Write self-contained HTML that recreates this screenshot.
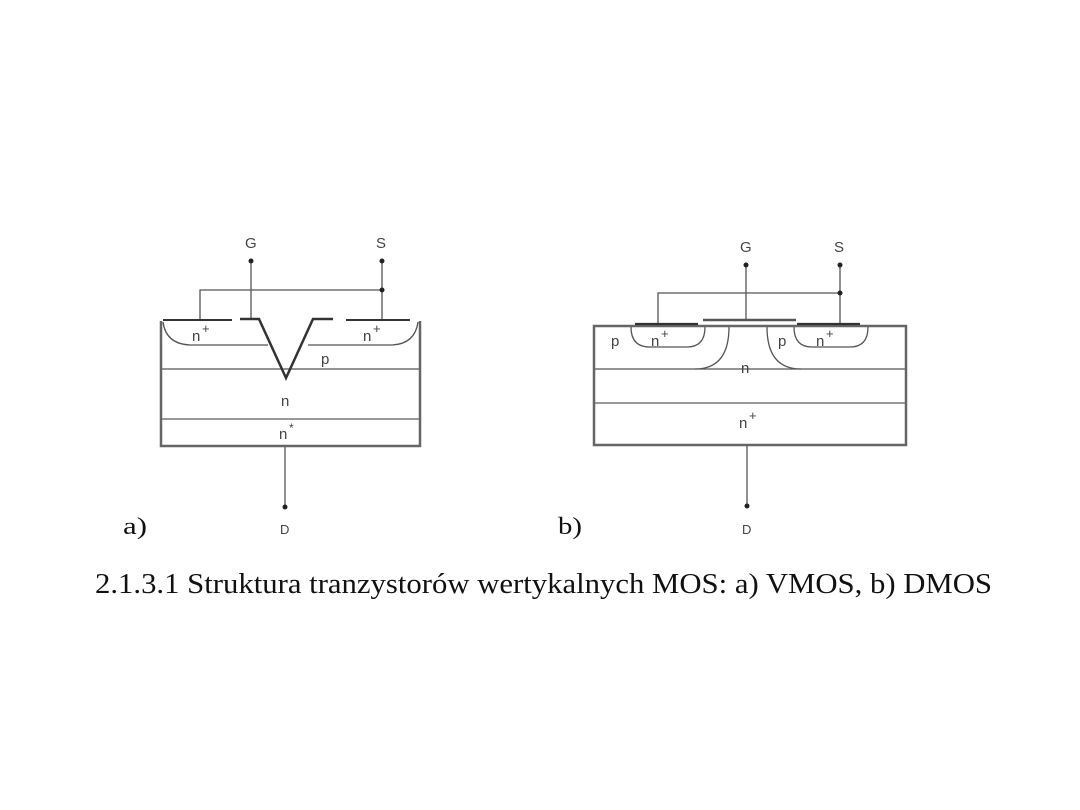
<!DOCTYPE html>
<html><head><meta charset="utf-8"><style>
html,body{margin:0;padding:0;background:#fff;}
svg{display:block;}
</style></head><body>
<svg width="1080" height="810" viewBox="0 0 1080 810" xmlns="http://www.w3.org/2000/svg">
<rect width="1080" height="810" fill="#fff"/>
<g font-family="Liberation Sans, sans-serif" font-size="15" fill="#444">
<!-- a) VMOS -->
<g fill="none" stroke="#555" stroke-width="1.3">
  <line x1="161" y1="369" x2="420" y2="369"/>
  <line x1="161" y1="419" x2="420" y2="419" stroke="#999" stroke-width="2"/>
  <path d="M163 322 Q166 344 190 345 L268 345"/>
  <path d="M418 322 Q415 344 392 345 L308 345"/>
  <line x1="251" y1="261" x2="251" y2="318"/>
  <line x1="382" y1="261" x2="382" y2="320"/>
  <polyline points="200,320 200,290 382,290"/>
  <line x1="285" y1="446" x2="285" y2="507"/>
</g>
<path d="M161 321 L161 446 L420 446 L420 321" fill="none" stroke="#666" stroke-width="2.5"/>
<line x1="163" y1="320" x2="232" y2="320" stroke="#333" stroke-width="2"/>
<line x1="346" y1="320" x2="410" y2="320" stroke="#333" stroke-width="2"/>
<polyline points="240,319 259,319 286,378 313,319 333,319" fill="none" stroke="#333" stroke-width="2.5"/>
<circle cx="251" cy="261" r="2.5" fill="#222"/>
<circle cx="382" cy="261" r="2.5" fill="#222"/>
<circle cx="382" cy="290" r="2.5" fill="#222"/>
<circle cx="285" cy="507" r="2.5" fill="#222"/>
<text x="245" y="248">G</text>
<text x="376" y="248">S</text>
<text x="192" y="341">n</text><text x="202" y="333" font-size="13">+</text>
<text x="363" y="341">n</text><text x="373" y="333" font-size="13">+</text>
<text x="321" y="364">p</text>
<text x="281" y="406">n</text>
<text x="279" y="439">n</text><text x="289" y="432" font-size="12">*</text>
<text x="280" y="534" font-size="13">D</text>

<!-- b) DMOS -->
<g fill="none" stroke="#555" stroke-width="1.3">
  <line x1="594" y1="369" x2="906" y2="369"/>
  <line x1="594" y1="403" x2="906" y2="403" stroke="#999" stroke-width="2"/>
  <path d="M631 327 Q631 347 650 347 L687 347 Q705 347 705 327"/>
  <path d="M729 327 Q729 369 695 369"/>
  <path d="M767 327 Q767 369 801 369"/>
  <path d="M794 327 Q794 347 812 347 L850 347 Q868 347 868 327"/>
  <line x1="746" y1="265" x2="746" y2="320"/>
  <line x1="840" y1="265" x2="840" y2="323"/>
  <polyline points="658,323 658,293 840,293"/>
  <line x1="747" y1="445" x2="747" y2="506"/>
</g>
<path d="M594 326 L594 445 L906 445 L906 326 Z" fill="none" stroke="#666" stroke-width="2.5"/>
<line x1="635" y1="324" x2="698" y2="324" stroke="#333" stroke-width="2.2"/>
<line x1="703" y1="320" x2="796" y2="320" stroke="#555" stroke-width="2.5"/>
<line x1="797" y1="324" x2="860" y2="324" stroke="#333" stroke-width="2.2"/>
<circle cx="746" cy="265" r="2.5" fill="#222"/>
<circle cx="840" cy="265" r="2.5" fill="#222"/>
<circle cx="840" cy="293" r="2.5" fill="#222"/>
<circle cx="747" cy="506" r="2.5" fill="#222"/>
<text x="740" y="252">G</text>
<text x="834" y="252">S</text>
<text x="611" y="346">p</text>
<text x="651" y="346">n</text><text x="661" y="338" font-size="13">+</text>
<text x="778" y="346">p</text>
<text x="816" y="346">n</text><text x="826" y="338" font-size="13">+</text>
<text x="741" y="373">n</text>
<text x="739" y="428">n</text><text x="749" y="420" font-size="13">+</text>
<text x="742" y="534" font-size="13">D</text>
</g>
<g font-family="Liberation Serif, serif" fill="#111">
<text x="123" y="534" font-size="24" textLength="24" lengthAdjust="spacingAndGlyphs">a)</text>
<text x="558" y="534" font-size="24" textLength="24" lengthAdjust="spacingAndGlyphs">b)</text>
<text x="95" y="593" font-size="28" textLength="897" lengthAdjust="spacingAndGlyphs">2.1.3.1 Struktura tranzystorów wertykalnych MOS: a) VMOS, b) DMOS</text>
</g>
</svg>
</body></html>
